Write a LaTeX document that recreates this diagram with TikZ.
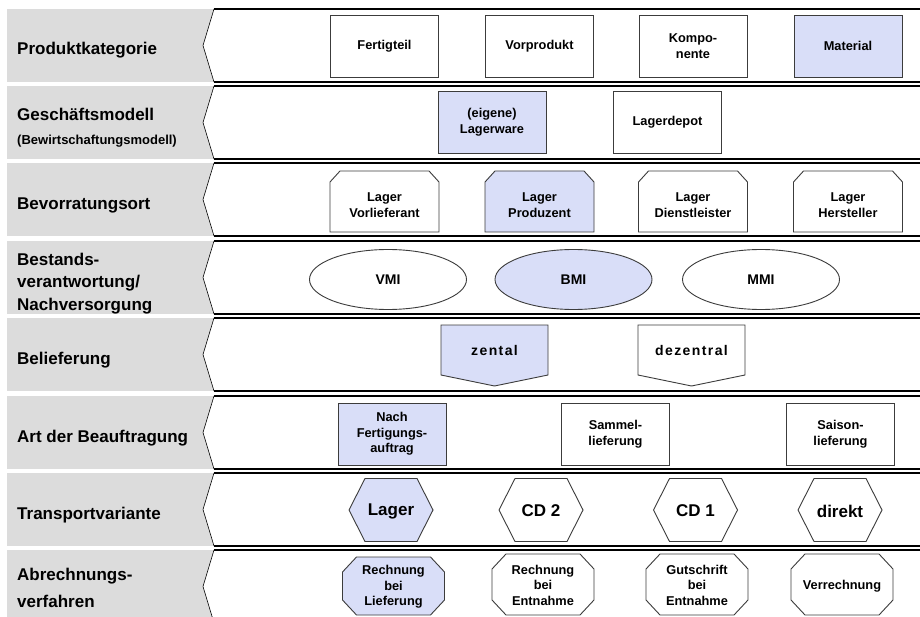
\documentclass[tikz,border=0pt]{standalone}
\usepackage{fontspec}
\setmainfont{Liberation Sans}
\newfontfamily\sperrfont{Liberation Sans}[LetterSpace=10]
\usetikzlibrary{shapes.geometric}
\definecolor{zeilengrau}{RGB}{220,220,220}
\definecolor{auswahl}{RGB}{217,222,248}
\definecolor{rahmen}{RGB}{60,60,60}

\begin{document}
\begin{tikzpicture}[x=1pt,y=-1pt,
    every node/.style={font=\bfseries\fontsize{12.8}{15.5}\selectfont,align=center,inner sep=0pt},
    kategorie/.style={anchor=west,align=left,font=\bfseries\fontsize{17}{22.5}\selectfont},
    opt/.style={draw=rahmen,line width=0.9pt,fill=white},
    gewaehlt/.style={opt,fill=auswahl},
    kasten/.style={rectangle,minimum width=108,minimum height=62},
    oval/.style={ellipse,minimum width=157,minimum height=60,font=\bfseries\fontsize{14}{16}\selectfont},
    gross/.style={font=\bfseries\fontsize{17}{20}\selectfont},
    sperr/.style={font=\sperrfont\bfseries\fontsize{14}{16}\selectfont}]
    \useasboundingbox (0,0) rectangle (920,617);

    % Zeilen mit grauem Kopf und Kerbe
    \foreach \t in {9,86,163,241,318,396,473,550}{
        \fill[zeilengrau] (7,\t) rectangle (216,\t+73);
        \fill[white] (214,\t) -- (920,\t) -- (920,\t+73) -- (214,\t+73) -- (203,\t+36.5) -- cycle;
        \draw[line width=0.6pt] (214,\t) -- (203,\t+36.5) -- (214,\t+73);
        \draw[line width=1.2pt] (214,\t) -- (920,\t) (214,\t+73) -- (920,\t+73);
    }

    \node[kategorie] (produkt) at (17,50.5) {Produktkategorie};
    \node[kategorie] (modell) at (17,114) {Geschäftsmodell};
    \node[kategorie,font=\bfseries\fontsize{13}{14}\selectfont] (bewirtschaftung) at (17,141.5) {(Bewirtschaftungsmodell)};
    \node[kategorie] (ort) at (17,205) {Bevorratungsort};
    \node[kategorie] (bestand) at (17,283.5) {Bestands-\\verantwortung/\\Nachversorgung};
    \node[kategorie] (belieferung) at (17,360) {Belieferung};
    \node[kategorie] (beauftragung) at (17,438) {Art der Beauftragung};
    \node[kategorie] (transport) at (17,515) {Transportvariante};
    \node[kategorie,font=\bfseries\fontsize{17}{27}\selectfont] (abrechnung) at (17,588) {Abrechnungs-\\verfahren};

    % Produktkategorie
    \node[opt,kasten] (fertigteil) at (384.5,46) {Fertigteil};
    \node[opt,kasten] (vorprodukt) at (539.5,46) {Vorprodukt};
    \node[opt,kasten] (komponente) at (693,46) {Kompo-\\nente};
    \node[gewaehlt,kasten] (material) at (848,46) {Material};

    % Geschaeftsmodell
    \node[gewaehlt,kasten] (lagerware) at (492,122) {(eigene)\\Lagerware};
    \node[opt,kasten] (lagerdepot) at (667.5,122) {Lagerdepot};

    % Bevorratungsort
    \foreach \cx/\farbe in {384.5/white,539.5/auswahl,693/white,848/white}
        \draw[opt,fill=\farbe] (\cx-54.5,232) -- (\cx-54.5,182) -- (\cx-44.5,171) -- (\cx+44.5,171) -- (\cx+54.5,182) -- (\cx+54.5,232) -- cycle;
    \node (vorlieferant) at (384.5,205) {Lager\\Vorlieferant};
    \node (produzent) at (539.5,205) {Lager\\Produzent};
    \node (dienstleister) at (693,205) {Lager\\Dienstleister};
    \node (hersteller) at (848,205) {Lager\\Hersteller};

    % Bestandsverantwortung
    \node[opt,oval] (vmi) at (388,279.5) {VMI};
    \node[gewaehlt,oval] (bmi) at (573.5,279.5) {BMI};
    \node[opt,oval] (mmi) at (761,279.5) {MMI};

    % Belieferung
    \foreach \cx/\farbe in {494.5/auswahl,691.5/white}
        \draw[opt,fill=\farbe] (\cx-53.5,325) -- (\cx+53.5,325) -- (\cx+53.5,375) -- (\cx,386) -- (\cx-53.5,375) -- cycle;
    \node[sperr] (zentral) at (494.5,350.5) {zental};
    \node[sperr] (dezentral) at (691.5,350.5) {dezentral};

    % Art der Beauftragung
    \node[gewaehlt,kasten] (fertigung) at (392,434) {Nach\\Fertigungs-\\auftrag};
    \node[opt,kasten] (sammel) at (615.5,434) {Sammel-\\lieferung};
    \node[opt,kasten] (saison) at (840.5,434) {Saison-\\lieferung};

    % Transportvariante
    \foreach \cx/\farbe in {391/auswahl,541/white,695.5/white,840/white}
        \draw[opt,fill=\farbe] (\cx-42,510) -- (\cx-26,478.5) -- (\cx+26,478.5) -- (\cx+42,510) -- (\cx+26,541.5) -- (\cx-26,541.5) -- cycle;
    \node[gross] (lager) at (391,511) {Lager};
    \node[gross] (cdzwei) at (541,511) {CD 2};
    \node[gross] (cdeins) at (695.5,511) {CD 1};
    \node[gross] (direkt) at (840,511) {direkt};

    % Abrechnungsverfahren
    \foreach \cx/\cy/\h/\farbe in {393.5/586/29/auswahl,543/584.5/30.5/white,697/584.5/30.5/white,842/584.5/30.5/white}
        \draw[opt,fill=\farbe] (\cx-51,\cy-\h+15) -- (\cx-37,\cy-\h) -- (\cx+37,\cy-\h) -- (\cx+51,\cy-\h+15)
            -- (\cx+51,\cy+\h-15) -- (\cx+37,\cy+\h) -- (\cx-37,\cy+\h) -- (\cx-51,\cy+\h-15) -- cycle;
    \node (lieferung) at (393.5,587) {Rechnung\\bei\\Lieferung};
    \node (entnahme) at (543,585) {Rechnung\\bei\\Entnahme};
    \node (gutschrift) at (697,585) {Gutschrift\\bei\\Entnahme};
    \node (verrechnung) at (842,586) {Verrechnung};
\end{tikzpicture}
\end{document}
